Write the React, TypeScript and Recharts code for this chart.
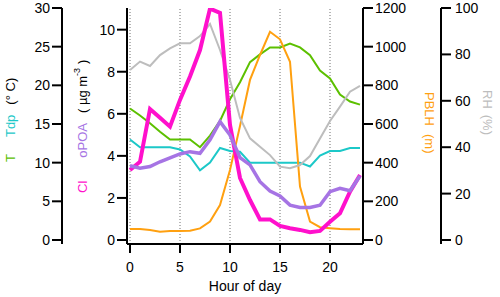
import React from 'react'
import { LineChart, Line, XAxis, YAxis, ReferenceLine } from 'recharts'

// hourly diurnal means
const hours = [0, 1, 2, 3, 4, 5, 6, 7, 8, 9, 10, 11, 12, 13, 14, 15, 16, 17, 18, 19, 20, 21, 22, 23]
const tempC = [17.0, 16.1, 15.1, 14.0, 13.0, 13.0, 13.0, 12.0, 13.5, 15.4, 18.2, 20.4, 23.0, 24.0, 24.9, 24.9, 25.4, 24.9, 23.9, 21.9, 20.9, 18.8, 17.9, 17.5]
const dewPointC = [13.0, 12.0, 12.0, 12.0, 12.0, 11.7, 10.8, 9.0, 10.0, 11.9, 11.5, 11.4, 10.0, 10.0, 10.0, 10.0, 10.0, 10.0, 9.5, 10.9, 11.5, 11.5, 11.9, 11.9]
const chloride = [3.33, 3.72, 6.23, 5.81, 5.39, 6.66, 7.77, 9.03, 11.0, 10.8, 5.47, 2.95, 1.9, 0.98, 0.98, 0.67, 0.56, 0.48, 0.37, 0.43, 0.87, 1.27, 2.3, 3.09]
const opoa = [3.53, 3.41, 3.49, 3.72, 3.91, 4.09, 4.2, 4.12, 4.76, 5.63, 4.99, 3.92, 3.57, 2.77, 2.33, 2.09, 1.66, 1.55, 1.55, 1.65, 2.3, 2.46, 2.34, 3.04]
const pblh = [57, 57, 52, 43, 47, 47, 48, 60, 95, 181, 362, 590, 828, 957, 1077, 1038, 922, 276, 95, 66, 61, 57, 55, 55]
const rh = [73.3, 76.9, 75.0, 79.7, 82.6, 84.8, 84.8, 87.9, 93.1, 81.9, 69.0, 52.6, 43.8, 40.2, 36.6, 31.6, 30.9, 32.3, 36.2, 43.8, 51.3, 57.5, 63.9, 66.4]

const hourTicks = [0, 5, 10, 15, 20]
const tempTicks = [0, 5, 10, 15, 20, 25, 30]
const massTicks = [0, 2, 4, 6, 8, 10]
const pblhTicks = [0, 200, 400, 600, 800, 1000, 1200]
const rhTicks = [0, 20, 40, 60, 80, 100]

const tColor = '#5cc000'
const tdpColor = '#1cc8c8'
const clColor = '#ff10cc'
const opoaColor = '#a674e4'
const pblhColor = '#ffa010'
const rhColor = '#bdbdbd'

const data = hours.map((hour, i) => ({
  hour,
  t: tempC[i],
  tdp: dewPointC[i],
  cl: chloride[i],
  opoa: opoa[i],
  pblh: pblh[i],
  rh: rh[i],
}))

type VB = { x: number; y: number; width: number; height: number }

const axisLine = { stroke: '#000', strokeWidth: 2 }
const tickStyle = { fill: '#000', fontSize: 14 }

const TempTitle = ({ viewBox }: { viewBox?: VB }) => {
  if (!viewBox) return null
  const x = viewBox.x + 10
  const y = viewBox.y + viewBox.height / 2 + 36
  return (
    <text x={x} y={y} transform={`rotate(-90 ${x} ${y})`} fontSize={13} dominantBaseline="central">
      <tspan fill={tColor}>T</tspan>
      <tspan dx={17} fill={tdpColor}>Tdp</tspan>
      <tspan dx={10} fill="#000">(° C)</tspan>
    </text>
  )
}

const MassTitle = ({ viewBox }: { viewBox?: VB }) => {
  if (!viewBox) return null
  const x = viewBox.x + 20
  const y = viewBox.y + viewBox.height / 2 + 67
  return (
    <text x={x} y={y} transform={`rotate(-90 ${x} ${y})`} fontSize={13} dominantBaseline="central">
      <tspan fill={clColor}>Cl</tspan>
      <tspan dx={23} fill={opoaColor}>oPOA</tspan>
      <tspan dx={10} fill="#000">( µg m</tspan>
      <tspan dy={-5} fontSize={9} fill="#000">-3</tspan>
      <tspan dx={4} dy={5} fill="#000">)</tspan>
    </text>
  )
}

const PblhTitle = ({ viewBox }: { viewBox?: VB }) => {
  if (!viewBox) return null
  const x = viewBox.x + 67
  const y = viewBox.y + viewBox.height / 2 - 34
  return (
    <text x={x} y={y} transform={`rotate(90 ${x} ${y})`} fontSize={13} dominantBaseline="central" fill={pblhColor}>
      <tspan>PBLH</tspan>
      <tspan dx={8}>(m)</tspan>
    </text>
  )
}

const RhTitle = ({ viewBox }: { viewBox?: VB }) => {
  if (!viewBox) return null
  const x = viewBox.x + 47
  const y = viewBox.y + viewBox.height / 2 - 36
  return (
    <text x={x} y={y} transform={`rotate(90 ${x} ${y})`} fontSize={13} dominantBaseline="central" fill={rhColor}>
      <tspan>RH</tspan>
      <tspan dx={6}>(%)</tspan>
    </text>
  )
}

const HourTitle = ({ viewBox }: { viewBox?: VB }) => {
  if (!viewBox) return null
  return (
    <text
      x={viewBox.x + viewBox.width / 2}
      y={viewBox.y + 42}
      fontSize={14}
      textAnchor="middle"
      dominantBaseline="central"
      fill="#000"
    >
      Hour of day
    </text>
  )
}

export default function App() {
  return (
    <div style={{ position: 'absolute', left: 0, top: 0, fontFamily: '"Liberation Sans", Arial, sans-serif' }}>
      <LineChart width={500} height={297} data={data} margin={{ top: 8, right: 0, bottom: 0, left: 0 }}>
        <XAxis
          dataKey="hour"
          type="number"
          domain={[-0.3, 23.3]}
          allowDataOverflow
          ticks={hourTicks}
          interval={0}
          height={53}
          tickSize={9}
          tickMargin={9}
          axisLine={axisLine}
          tickLine={axisLine}
          tick={tickStyle}
          label={(p: any) => <HourTitle viewBox={p.viewBox} />}
        />
        <YAxis
          yAxisId="cl"
          orientation="left"
          width={65}
          domain={[-0.19, 11.03]}
          allowDataOverflow
          ticks={massTicks}
          interval={0}
          tickSize={10}
          tickMargin={2}
          axisLine={axisLine}
          tickLine={axisLine}
          tick={tickStyle}
          label={(p: any) => <MassTitle viewBox={p.viewBox} />}
        />
        <YAxis
          yAxisId="t"
          orientation="left"
          width={62}
          domain={[-0.52, 30]}
          allowDataOverflow
          ticks={tempTicks}
          interval={0}
          tickSize={10}
          tickMargin={2}
          axisLine={axisLine}
          tickLine={axisLine}
          tick={tickStyle}
          label={(p: any) => <TempTitle viewBox={p.viewBox} />}
        />
        <YAxis
          yAxisId="pblh"
          orientation="right"
          width={78}
          domain={[-20.7, 1200]}
          allowDataOverflow
          ticks={pblhTicks}
          interval={0}
          tickSize={10}
          tickMargin={2}
          axisLine={axisLine}
          tickLine={axisLine}
          tick={tickStyle}
          label={(p: any) => <PblhTitle viewBox={p.viewBox} />}
        />
        <YAxis
          yAxisId="rh"
          orientation="right"
          width={59}
          domain={[-1.72, 100]}
          allowDataOverflow
          ticks={rhTicks}
          interval={0}
          tickSize={10}
          tickMargin={4}
          axisLine={axisLine}
          tickLine={axisLine}
          tick={tickStyle}
          label={(p: any) => <RhTitle viewBox={p.viewBox} />}
        />
        {hourTicks.map((h) => (
          <ReferenceLine key={h} x={h} yAxisId="cl" stroke="#6e6e6e" strokeWidth={1} strokeDasharray="1 2" />
        ))}
        <Line yAxisId="t" dataKey="t" stroke={tColor} strokeWidth={2} dot={false} isAnimationActive={false} />
        <Line yAxisId="t" dataKey="tdp" stroke={tdpColor} strokeWidth={2} dot={false} isAnimationActive={false} />
        <Line yAxisId="pblh" dataKey="pblh" stroke={pblhColor} strokeWidth={2} dot={false} isAnimationActive={false} />
        <Line yAxisId="rh" dataKey="rh" stroke={rhColor} strokeWidth={2} dot={false} isAnimationActive={false} />
        <Line yAxisId="cl" dataKey="cl" stroke={clColor} strokeWidth={4} dot={false} isAnimationActive={false} />
        <Line yAxisId="cl" dataKey="opoa" stroke={opoaColor} strokeWidth={3.5} dot={false} isAnimationActive={false} />
      </LineChart>
    </div>
  )
}
